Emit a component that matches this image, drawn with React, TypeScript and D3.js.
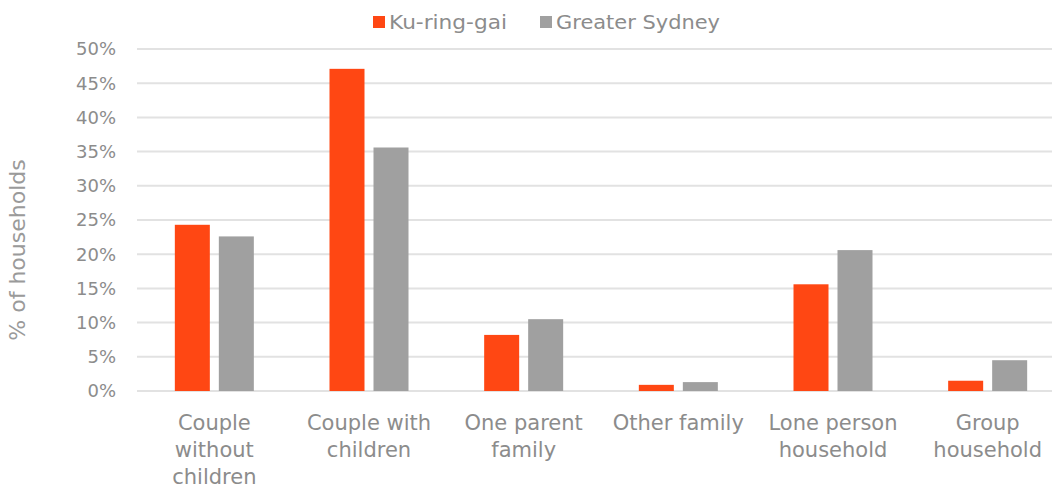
import React from "react";
import * as d3 from "d3";

const categories: string[][] = [
  ["Couple", "without", "children"],
  ["Couple with", "children"],
  ["One parent", "family"],
  ["Other family"],
  ["Lone person", "household"],
  ["Group", "household"],
];
const seriesNames = ["Ku-ring-gai", "Greater Sydney"];
const kuringgai = [24.3, 47.1, 8.2, 0.9, 15.6, 1.5];
const greaterSydney = [22.6, 35.6, 10.5, 1.3, 20.6, 4.5];
const yTicks = [0, 5, 10, 15, 20, 25, 30, 35, 40, 45, 50];
const colors = ["#FF4713", "#A0A0A0"];

const W = 1052;
const H = 488;
const FONT = "'DejaVu Sans', sans-serif";
const TEXT = "#8C8C8C";

export default function App() {
  const left = 137;
  const right = 1065;
  const top = 49;
  const bottom = 391;
  const x = d3
    .scaleBand<number>()
    .domain(d3.range(categories.length))
    .range([left, right])
    .paddingInner(0)
    .paddingOuter(0);
  const y = d3.scaleLinear().domain([0, 50]).range([bottom, top]);
  const barW = 35;
  const gap = 9;
  const series = [kuringgai, greaterSydney];

  return (
    <div style={{ position: "absolute", left: 0, top: 0 }}>
      <svg width={W} height={H} style={{ display: "block" }} fontFamily={FONT}>
        <rect width={W} height={H} fill="#fff" />
        {yTicks.map((t) => (
          <g key={t}>
            <line x1={left} x2={right} y1={y(t)} y2={y(t)} stroke="#E2E2E2" strokeWidth={2} />
            <text x={116} y={y(t)} dy="0.36em" textAnchor="end" fontSize={18} fill={TEXT}>
              {t}%
            </text>
          </g>
        ))}
        {series.map((vals, si) =>
          vals.map((v, i) => {
            const cx = x(i)! + x.bandwidth() / 2;
            const bx = si === 0 ? cx - gap / 2 - barW : cx + gap / 2;
            return (
              <rect
                key={si + "-" + i}
                x={bx}
                y={y(v)}
                width={barW}
                height={bottom - y(v)}
                fill={colors[si]}
              />
            );
          })
        )}
        {categories.map((lines, i) => {
          const cx = x(i)! + x.bandwidth() / 2;
          return (
            <text key={i} textAnchor="middle" fontSize={21} fill={TEXT}>
              {lines.map((l, j) => (
                <tspan key={j} x={cx} y={430 + j * 27}>
                  {l}
                </tspan>
              ))}
            </text>
          );
        })}
        <text
          transform={`translate(25,250) rotate(-90)`}
          textAnchor="middle"
          fontSize={22}
          fill="#9A9A9A"
        >
          % of households
        </text>
        <g>
          <rect x={373} y={16} width={12} height={12} fill={colors[0]} />
          <text x={389} y={22} dy="0.36em" fontSize={20} fill={TEXT} textLength={118} lengthAdjust="spacingAndGlyphs">
            {seriesNames[0]}
          </text>
          <rect x={540} y={16} width={12} height={12} fill={colors[1]} />
          <text x={556} y={22} dy="0.36em" fontSize={20} fill={TEXT} textLength={164} lengthAdjust="spacingAndGlyphs">
            {seriesNames[1]}
          </text>
        </g>
      </svg>
    </div>
  );
}
